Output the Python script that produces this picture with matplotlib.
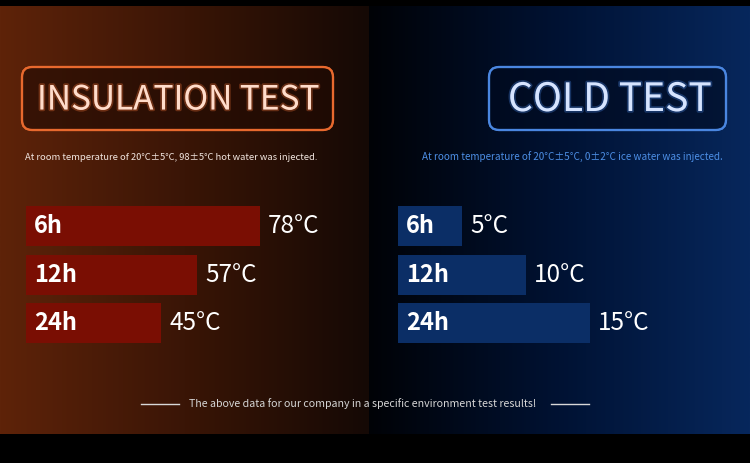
import matplotlib.pyplot as plt
import matplotlib.patheffects as pe
import numpy as np
from matplotlib.colors import LinearSegmentedColormap
from matplotlib.patches import FancyBboxPatch

W, H = 750, 463

hours = ["6h", "12h", "24h"]
hot_temps = [78, 57, 45]
cold_temps = [5, 10, 15]

hot_title = "INSULATION TEST"
cold_title = "COLD TEST"
hot_note = "At room temperature of 20°C±5°C, 98±5°C hot water was injected."
cold_note = "At room temperature of 20°C±5°C, 0±2°C ice water was injected."
footer = "The above data for our company in a specific environment test results!"

FONT = ["Noto Sans CJK SC", "DejaVu Sans"]
plt.rcParams["font.family"] = FONT


def px_axes(fig, x0, y0, x1, y1):
    # axes placed by pixel box (top-left origin)
    return fig.add_axes([x0 / W, 1 - y1 / H, (x1 - x0) / W, (y1 - y0) / H])


def gradient(ax, x0, x1, y0, y1, colors):
    cmap = LinearSegmentedColormap.from_list("g", colors)
    grad = np.linspace(0, 1, 256).reshape(1, -1)
    ax.imshow(grad, cmap=cmap, aspect="auto", extent=(x0, x1, y1, y0), zorder=0)


def fit_width(fig, txt, width_px):
    r = fig.canvas.get_renderer()
    w = txt.get_window_extent(renderer=r).width
    txt.set_fontsize(txt.get_fontsize() * width_px / w)


def bar_panel(fig, x0, px_per_unit, values, color):
    ax = px_axes(fig, x0, 202, x0 + 320, 347.5)
    ax.set_xlim(0, 320 / px_per_unit)
    ax.set_ylim(2.5, -0.5)
    ax.barh(range(len(values)), values, height=0.83, color=color)
    for i, (lab, v) in enumerate(zip(hours, values)):
        ax.text(8 / px_per_unit, i, lab, color="white", fontsize=17,
                fontweight="bold", va="center", ha="left")
        ax.text(v + 8 / px_per_unit, i, f"{v}°C", color="white", fontsize=17.5,
                va="center", ha="left")
    ax.axis("off")
    ax.patch.set_alpha(0)


def main():
    fig = plt.figure(figsize=(W / 100, H / 100), dpi=100, facecolor="black")
    bg = fig.add_axes([0, 0, 1, 1])
    bg.axis("off")

    gradient(bg, 0, 369, 6, 434, ["#5e2309", "#3a1506", "#150905"])
    gradient(bg, 369, W, 6, 434, ["#000206", "#001233", "#07275c"])
    bg.set_xlim(0, W)
    bg.set_ylim(H, 0)

    # title boxes
    for (x0, x1, tx, tw, edge, face, tcolor, glow, title) in [
        (22, 333, 37, 283, "#e8692e", "#200a03", "#ffdccb", "#ff7a3c", hot_title),
        (489, 726, 508, 204, "#4a86e0", "#010a1e", "#d6e4ff", "#4f8ff0", cold_title),
    ]:
        box = FancyBboxPatch((x0, 67), x1 - x0, 63,
                             boxstyle="round,pad=0,rounding_size=10",
                             facecolor=face, edgecolor=edge, linewidth=1.6,
                             alpha=0.6, zorder=2)
        bg.add_patch(box)
        bg.add_patch(FancyBboxPatch((x0, 67), x1 - x0, 63,
                                    boxstyle="round,pad=0,rounding_size=10",
                                    facecolor="none", edgecolor=edge,
                                    linewidth=1.6, zorder=2))
        t = bg.text(tx, 100, title, color=tcolor, fontsize=29,
                    ha="left", va="center", zorder=3,
                    path_effects=[pe.withStroke(linewidth=2.5, foreground=glow, alpha=0.3)])
        fit_width(fig, t, tw)

    t = bg.text(25, 157, hot_note, color="#f2e6e0", fontsize=8,
                ha="left", va="center")
    fit_width(fig, t, 293)
    t = bg.text(422, 157, cold_note, color="#4d8fe6", fontsize=8,
                ha="left", va="center")
    fit_width(fig, t, 302)

    # footer
    bg.plot([141, 179], [404, 404], color="#d8d8d8", lw=1)
    bg.plot([551, 589], [404, 404], color="#d8d8d8", lw=1)
    t = bg.text(189, 404, footer, color="#d6d6d6", fontsize=9,
                ha="left", va="center")
    fit_width(fig, t, 347)

    bar_panel(fig, 26, 3.0, hot_temps, "#7a0e03")
    bar_panel(fig, 398, 12.8, cold_temps, "#0b2e66")

    fig.savefig("out.png", dpi=100, facecolor="black")


if __name__ == "__main__":
    main()
